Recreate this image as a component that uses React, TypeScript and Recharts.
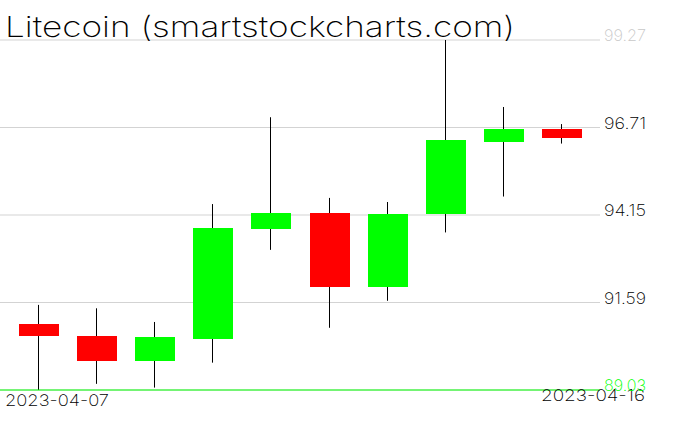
import React from "react";
import {
  ComposedChart,
  Bar,
  XAxis,
  YAxis,
  CartesianGrid,
  ReferenceLine,
} from "recharts";

const DATES = [
  "2023-04-07",
  "2023-04-08",
  "2023-04-09",
  "2023-04-10",
  "2023-04-11",
  "2023-04-12",
  "2023-04-13",
  "2023-04-14",
  "2023-04-15",
  "2023-04-16",
];
const OPEN = [90.96, 90.61, 89.89, 90.53, 93.74, 94.21, 92.05, 94.17, 96.29, 96.67];
const HIGH = [91.52, 91.42, 91.02, 94.47, 97.01, 94.65, 94.53, 99.27, 97.31, 96.81];
const LOW = [89.03, 89.21, 89.1, 89.83, 93.13, 90.85, 91.64, 93.64, 94.69, 96.24];
const CLOSE = [90.6, 89.89, 90.58, 93.77, 94.21, 92.05, 94.18, 96.34, 96.67, 96.41];
const Y_TICKS = [89.03, 91.59, 94.15, 96.71, 99.27];

const UP = "#00ff00";
const DOWN = "#ff0000";
const GRID = "#d3d3d3";
const FONT = "Inter, DejaVu Sans, sans-serif";

const data = DATES.map((d, i) => ({
  date: d,
  range: [LOW[i], HIGH[i]],
  open: OPEN[i],
  high: HIGH[i],
  low: LOW[i],
  close: CLOSE[i],
}));

// wick + body, positioned from the high/low range bar that recharts lays out
function Candle(props: any) {
  const { x, y, width, height, payload } = props;
  if (x == null || y == null) return null;
  const top = Math.min(y, y + height);
  const bottom = Math.max(y, y + height);
  const span = payload.high - payload.low;
  const k = span > 0 ? (bottom - top) / span : 0;
  const yOf = (v: number) => top + (payload.high - v) * k;
  const up = payload.close >= payload.open;
  const bx = Math.round(x);
  const bw = Math.round(width);
  const cx = bx + bw / 2 - 0.5;
  const bTop = Math.round(yOf(Math.max(payload.open, payload.close)));
  const bBot = Math.round(yOf(Math.min(payload.open, payload.close)));
  return (
    <g>
      <line x1={cx} x2={cx} y1={yOf(payload.high)} y2={yOf(payload.low)} stroke="#000" strokeWidth={1} />
      <rect x={bx} y={bTop} width={bw} height={Math.max(1, bBot - bTop)} fill={up ? UP : DOWN} />
    </g>
  );
}

function PriceTick(props: any) {
  const { x, y, payload } = props;
  const last = payload.value === Y_TICKS[Y_TICKS.length - 1];
  const first = payload.value === Y_TICKS[0];
  const color = last ? "#c8c8c8" : first ? UP : "#000";
  return (
    <text
      x={x - 4}
      y={y + 1}
      fill={color}
      fontSize={16}
      fontFamily={FONT}
      fontWeight={200}
      textLength={42}
      lengthAdjust="spacingAndGlyphs"
      textAnchor="start"
    >
      {payload.value.toFixed(2)}
    </text>
  );
}

function DateTick(props: any) {
  const { payload } = props;
  const first = payload.value === DATES[0];
  return (
    <text
      x={first ? 5 : 541}
      y={first ? 406 : 401}
      fill="#000"
      fontSize={16}
      fontFamily={FONT}
      fontWeight={200}
      textLength={104}
      lengthAdjust="spacingAndGlyphs"
      textAnchor="start"
    >
      {payload.value}
    </text>
  );
}

export default function App() {
  return (
    <div style={{ position: "absolute", left: 0, top: 0, width: 676, height: 431, background: "#fff" }}>
      <ComposedChart width={676} height={431} data={data} margin={{ top: 40, right: 0, left: 0, bottom: 0 }}>
        <CartesianGrid stroke={GRID} vertical={false} />
        <XAxis
          dataKey="date"
          ticks={[DATES[0], DATES[DATES.length - 1]]}
          interval={0}
          height={41}
          axisLine={false}
          tickLine={false}
          padding={{ left: 10, right: 9 }}
          tick={<DateTick />}
        />
        <YAxis
          orientation="right"
          width={76}
          domain={[Y_TICKS[0], Y_TICKS[Y_TICKS.length - 1]]}
          ticks={Y_TICKS}
          axisLine={false}
          tickLine={false}
          tick={<PriceTick />}
        />
        <ReferenceLine y={Y_TICKS[0]} stroke={UP} strokeWidth={1} />
        <Bar dataKey="range" barSize={40} shape={<Candle />} isAnimationActive={false} />
      </ComposedChart>
      <svg width={676} height={60} style={{ position: "absolute", left: 0, top: 0, pointerEvents: "none" }}>
        <text
          x={5}
          y={36.5}
          fontSize={29}
          fontFamily={FONT}
          fontWeight={200}
          textLength={510}
          lengthAdjust="spacingAndGlyphs"
          fill="#000"
        >
          Litecoin (smartstockcharts.com)
        </text>
      </svg>
    </div>
  );
}
